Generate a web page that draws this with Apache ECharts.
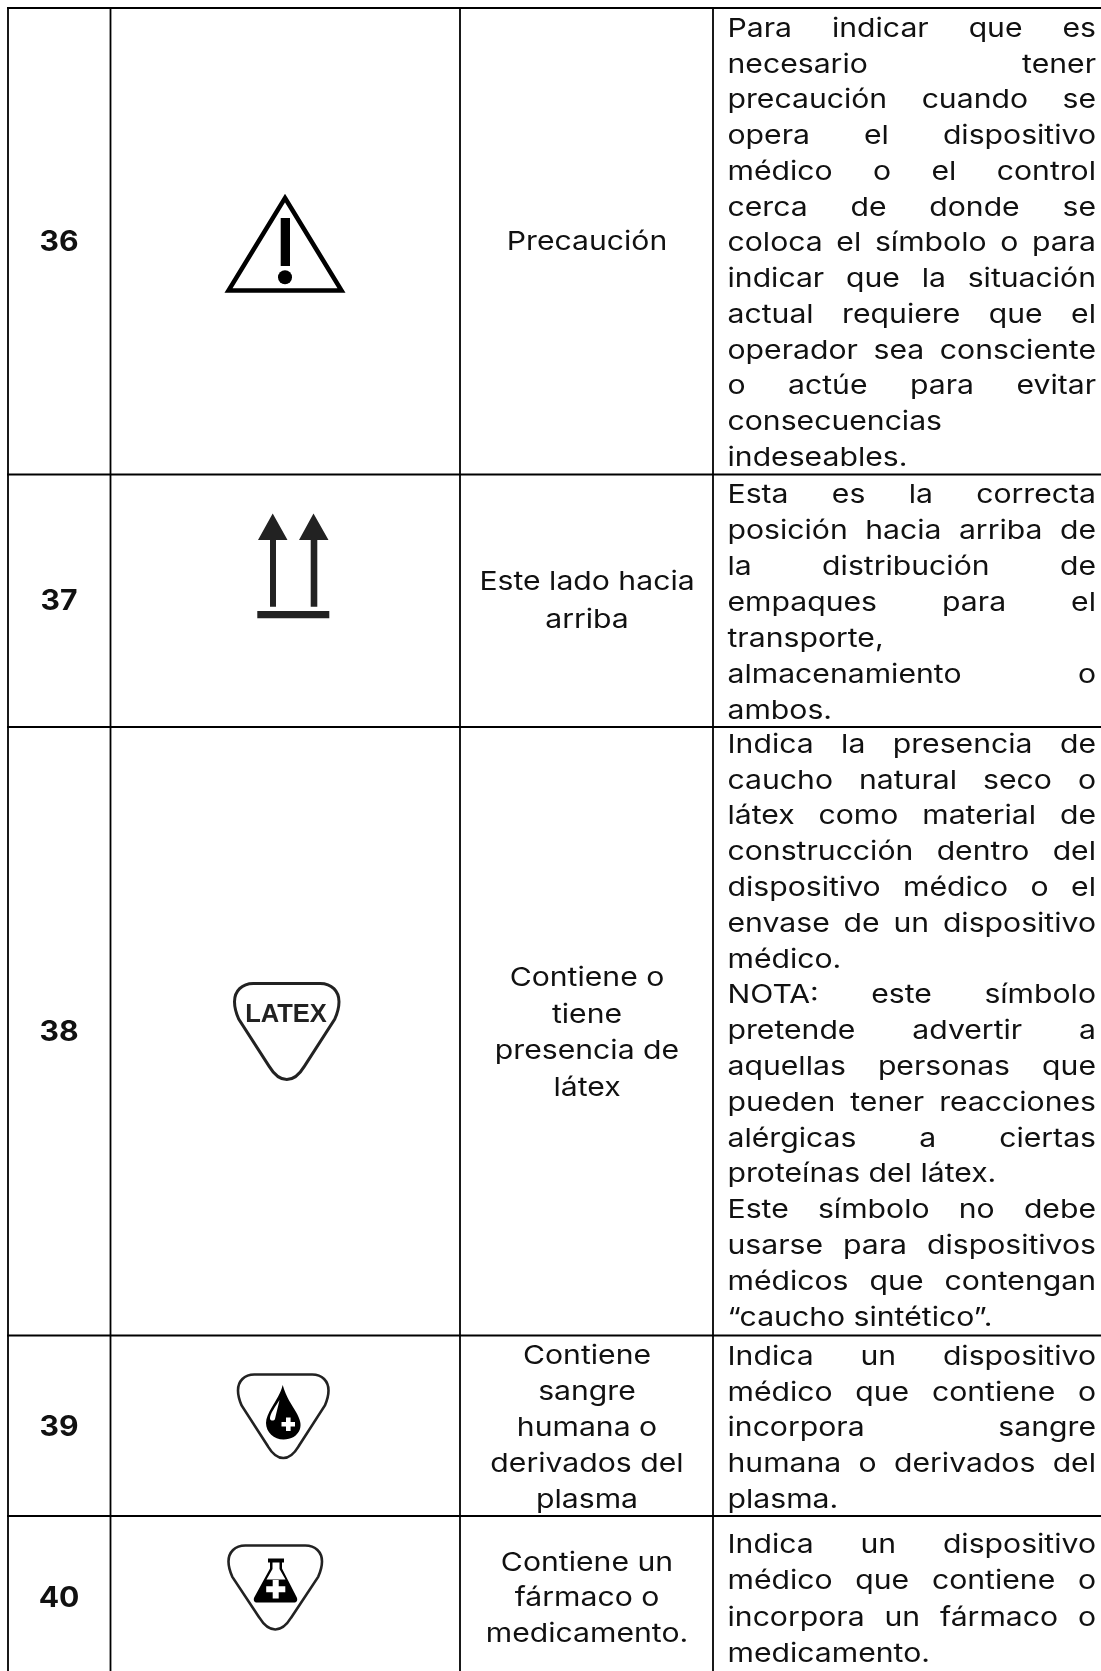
<!DOCTYPE html>
<html><head><meta charset="utf-8">
<style>html,body{margin:0;padding:0;background:#fff}#c{width:1101px;height:1671px}</style>
<script src="https://cdn.jsdelivr.net/npm/echarts@6/dist/echarts.min.js"></script>
</head><body><div id="c"></div>
<script>
const rowNumbers = ['36','37','38','39','40'];
const symbolNames = [
  ['Precaución'],
  ['Este lado hacia','arriba'],
  ['Contiene o','tiene','presencia de','látex'],
  ['Contiene','sangre','humana o','derivados del','plasma'],
  ['Contiene un','fármaco o','medicamento.']
];
const descriptions = [
  ['Para indicar que es','necesario tener','precaución cuando se','opera el dispositivo','médico o el control','cerca de donde se','coloca el símbolo o para','indicar que la situación','actual requiere que el','operador sea consciente','o actúe para evitar','consecuencias','indeseables.'],
  ['Esta es la correcta','posición hacia arriba de','la distribución de','empaques para el','transporte,','almacenamiento o','ambos.'],
  ['Indica la presencia de','caucho natural seco o','látex como material de','construcción dentro del','dispositivo médico o el','envase de un dispositivo','médico.','NOTA: este símbolo','pretende advertir a','aquellas personas que','pueden tener reacciones','alérgicas a ciertas','proteínas del látex.','Este símbolo no debe','usarse para dispositivos','médicos que contengan','“caucho sintético”.'],
  ['Indica un dispositivo','médico que contiene o','incorpora sangre','humana o derivados del','plasma.'],
  ['Indica un dispositivo','médico que contiene o','incorpora un fármaco o','medicamento.']
];
const raggedLines = ['proteínas del látex.','“caucho sintético”.'];

const FONT='Inter', SIZE=26, INK='#111';
const colX=[8,110.5,460,713];
const rowY=[8,474.5,727,1335.5,1516];
const numY=[243,602,1033,1428,1599];
const nameY=[[242],[582,620],[978,1015,1051,1088],[1356,1392,1428,1464,1500],[1563,1598,1634]];
const descStart=[29,495,745,1357,1545], descStep=[35.75,36,35.8,35.8,36.5];
const textL=727.5, textR=1096;

const ctx=document.createElement('canvas').getContext('2d');
const mw=(s,w,z)=>{ctx.font=`${w} ${z}px ${FONT}`;return ctx.measureText(s).width;};
const HS=234/mw('almacenamiento',400,SIZE);
const els=[];
function txt(s,x,y,o={}){
  const a=o.align||'left';
  els.push({type:'text',x,y,scaleX:o.sx===undefined?HS:o.sx,silent:true,z:5,style:{text:s,x:0,y:0,
    fill:o.fill||INK,fontFamily:o.font||FONT,fontSize:o.size||SIZE,fontWeight:o.weight||400,
    align:a,verticalAlign:'middle',textAlign:a,textVerticalAlign:'middle'}});
}
function line(x1,y1,x2,y2,w){els.push({type:'line',silent:true,z:4,shape:{x1,y1,x2,y2},style:{stroke:'#000',lineWidth:w}});}
let pathCount=0;
function path(d,st){
  const name='iconPath'+(pathCount++);
  echarts.graphic.registerShape(name,echarts.graphic.extendPath(d,{}));
  els.push({type:name,silent:true,z:3,style:st});
}

colX.forEach(x=>line(x,7,x,1671,1.8));
rowY.forEach(y=>line(7,y,1101,y,2.2));

rowNumbers.forEach((n,i)=>txt(n,59,numY[i],{align:'center',weight:700,size:28,sx:HS*26/28}));
symbolNames.forEach((ls,i)=>ls.forEach((l,j)=>txt(l,587,nameY[i][j],{align:'center'})));

descriptions.forEach((ls,i)=>ls.forEach((l,j)=>{
  const y=descStart[i]+j*descStep[i], words=l.split(' ');
  if(words.length<2||raggedLines.includes(l)){txt(l,textL,y);return;}
  const ws=words.map(w=>mw(w,400,SIZE)*HS), sum=ws.reduce((a,b)=>a+b,0);
  const gap=(textR-textL-sum)/(words.length-1);
  let x=textL;
  words.forEach((w,k)=>{txt(w,x,y);x+=ws[k]+gap;});
}));

// rounded triangle used by the latex / blood / drug symbols
function badge(x,y,w,h,lw){
  const p=(u,v)=>`${(x+u*w).toFixed(1)} ${(y+v*h).toFixed(1)}`;
  const d=`M${p(.18,0)}L${p(.82,0)}C${p(.93,0)} ${p(1,.08)} ${p(1,.19)}C${p(1,.26)} ${p(.98,.32)} ${p(.96,.37)}L${p(.67,.86)}C${p(.62,.95)} ${p(.56,1)} ${p(.5,1)}C${p(.44,1)} ${p(.38,.95)} ${p(.33,.86)}L${p(.04,.37)}C${p(.02,.32)} ${p(0,.26)} ${p(0,.19)}C${p(0,.08)} ${p(.07,0)} ${p(.18,0)}Z`;
  path(d,{fill:'#fff',stroke:'#222',lineWidth:lw});
}
// 36 warning
path('M285 198L341.5 290.5L228.5 290.5Z',{fill:'#fff',stroke:'#000',lineWidth:4.5,lineJoin:'miter'});
path('M280.7 218H290V266H280.7Z',{fill:'#000'});
els.push({type:'circle',silent:true,z:3,shape:{cx:285,cy:277.3,r:7},style:{fill:'#000'}});
// 37 arrows
path('M270 538H276V606.7H270ZM310.7 538H317.3V606.7H310.7Z',{fill:'#222'});
path('M272.7 513.5L287.5 540H258ZM313.5 513.5L328.5 540H299Z',{fill:'#222'});
path('M257.3 611H329.3V618.3H257.3Z',{fill:'#222'});
// 38 latex
badge(234.5,983.5,104.5,96,3);
txt('LATEX',286,1014.5,{align:'center',font:'Liberation Sans',size:25.5,weight:700,fill:'#222',sx:1});
// 39 blood
badge(238,1374.5,90.5,83.5,2.6);
path('M282.7 1385C286 1397 292 1405 296 1412C300 1419 301.5 1424 300 1429C297.5 1436 291 1439.5 283.5 1439.5C274 1439.5 266 1432 266 1423C266 1418 268.5 1413 272 1407C276 1400 280.5 1394 282.7 1385Z',{fill:'#000'});
path('M279.5 1400C276 1406 269.5 1414 270 1419C271 1421 274 1421 275 1419C276 1414 278 1407 279.5 1400Z',{fill:'#fff'});
path('M286 1417.5H290.6V1422H295V1426.6H290.6V1431H286V1426.6H281.5V1422H286Z',{fill:'#fff'});
// 40 drug
badge(228.5,1545.5,93.5,84,2.6);
path('M268 1558.5H284V1562.5H282V1568.5L296.8 1597.5C298 1600.5 296.5 1602.5 294 1602.5H257C254.5 1602.5 253 1600.5 254.2 1597.5L270 1568.5V1562.5H268Z',{fill:'#000'});
path('M272.5 1562.5H279.5V1569L285.5 1579.5H266.5L272.5 1569Z',{fill:'#fff'});
path('M272.7 1580H278.7V1586.3H285.3V1592.3H278.7V1598.5H272.7V1592.3H266.2V1586.3H272.7Z',{fill:'#fff'});

const chart=echarts.init(document.getElementById('c'),null,{renderer:'canvas',width:1101,height:1671});
chart.setOption({animation:false,backgroundColor:'#fff',graphic:{elements:els}});
</script></body></html>
